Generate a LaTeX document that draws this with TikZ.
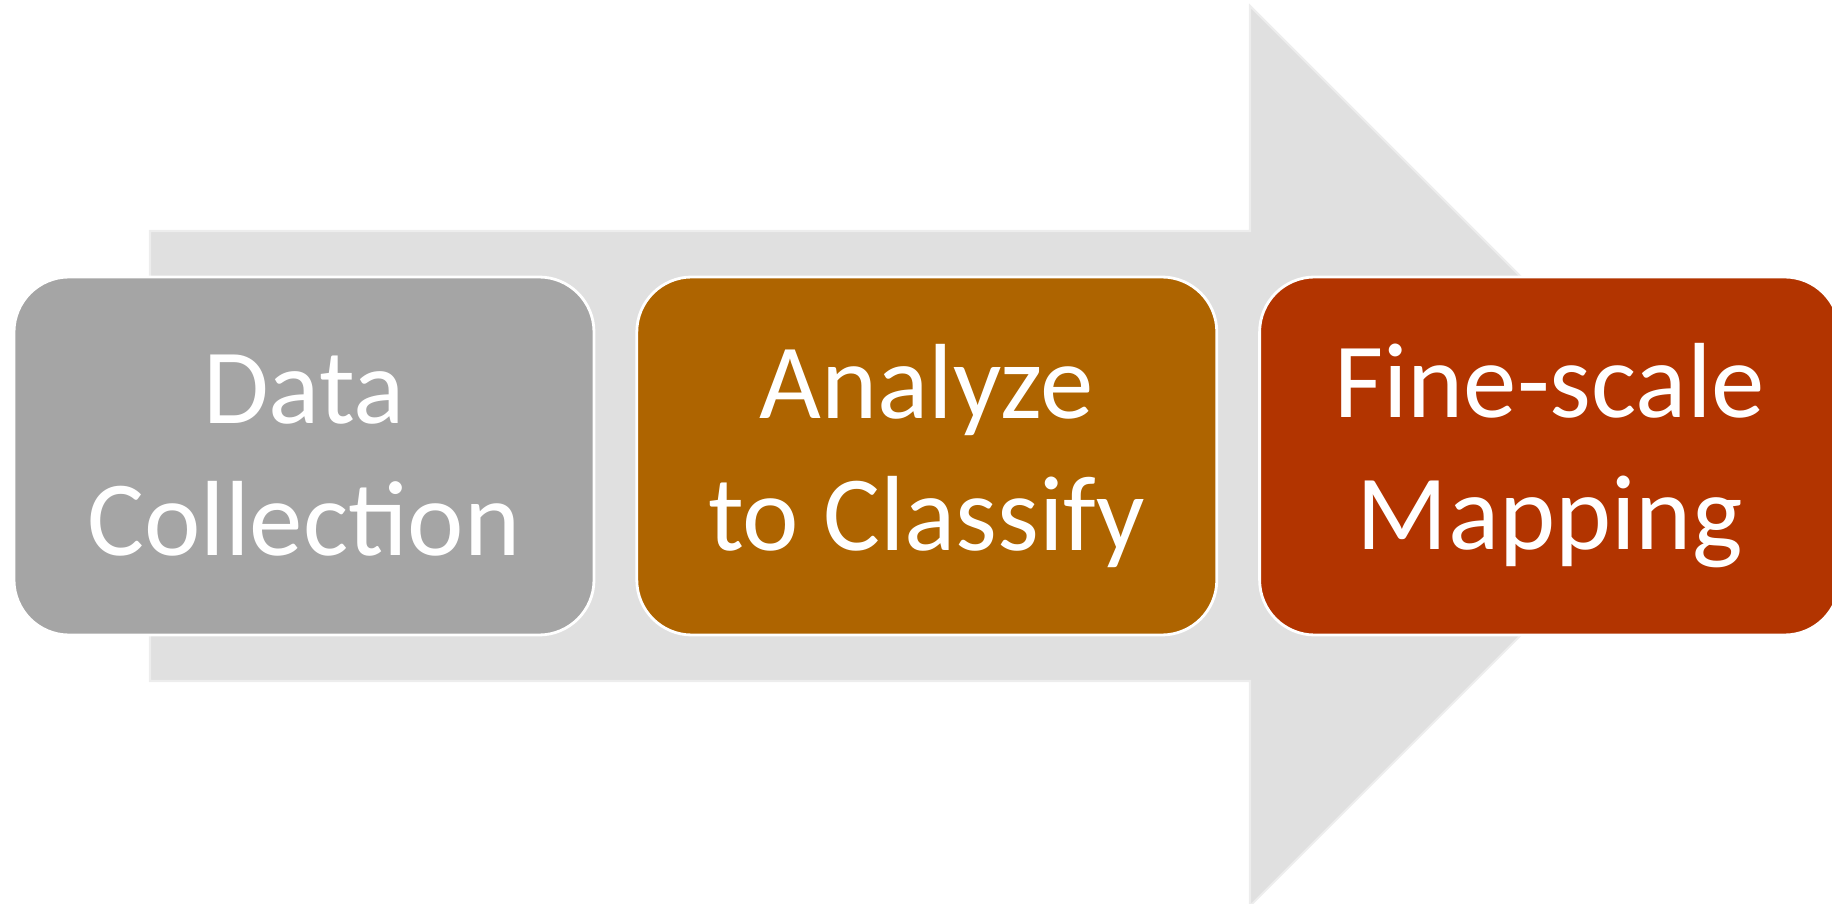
\documentclass[tikz,border=0pt]{standalone}
\usepackage{fontspec}
\setmainfont{Carlito}
\usepackage{tikz}
\usetikzlibrary{positioning}

\definecolor{stepgray}{HTML}{A5A5A5}
\definecolor{steporange}{HTML}{AE6400}
\definecolor{stepred}{HTML}{B23400}
\definecolor{arrowgray}{HTML}{E0E0E0}

\tikzset{
  stepbox/.style={rounded corners=0.55cm, draw=white, line width=0.8pt,
    minimum width=5.8cm, minimum height=3.58cm, text=white, align=center,
    font=\fontsize{30.4}{37.6}\selectfont, inner sep=0pt}
}

\begin{document}
\begin{tikzpicture}
    \useasboundingbox (0,0) rectangle (18.32,9.03);
    \clip (0,0) rectangle (18.32,9.03);

    % Flecha de fondo
    \draw[fill=arrowgray, draw=black!7, line width=0.6pt]
      (1.50,6.72) -- (12.50,6.72) -- (12.50,8.97) -- (17.00,4.47)
      -- (12.50,-0.03) -- (12.50,2.22) -- (1.50,2.22) -- cycle;

    % Pasos
    \node[stepbox, fill=stepgray] (collect) at (3.04,4.47) {Data\\Collection};
    \node[stepbox, fill=steporange, right=0.4cm of collect] (classify) {Analyze\\to Classify};
    \node[stepbox, fill=stepred, right=0.4cm of classify] (mapping) {Fine-scale\\Mapping};
\end{tikzpicture}
\end{document}
